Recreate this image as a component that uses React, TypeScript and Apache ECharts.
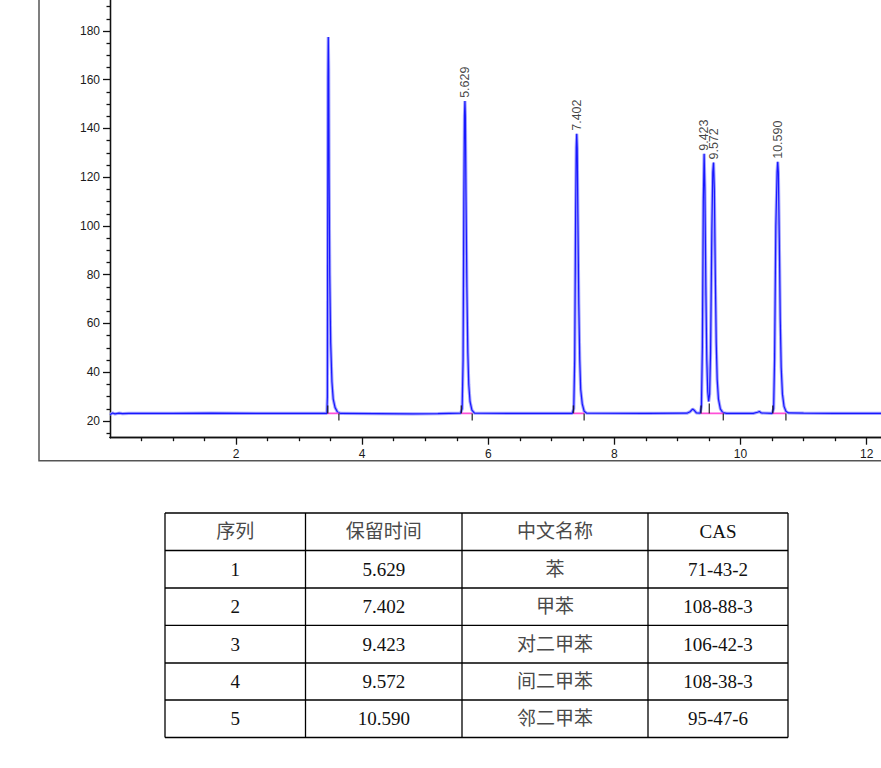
import React, { useEffect, useRef } from 'react';
import * as echarts from 'echarts';

// ---- chromatogram trace (time in min, signal) ----
const trace: [number, number][] = [
  [0.0, 22.6], [0.04, 23.3], [0.08, 22.9], [0.14, 23.2], [0.2, 23.0], [0.3, 23.1],
  [1.0, 23.1], [1.6, 23.2], [2.5, 23.1], [3.0, 23.1], [3.44, 23.1],
  [3.448, 30], [3.452, 90], [3.457, 160], [3.462, 177.5], [3.468, 165], [3.475, 120],
  [3.485, 80], [3.5, 52], [3.52, 36], [3.54, 29], [3.57, 25.5], [3.61, 23.6], [3.66, 23.1],
  [4.2, 23.0], [4.8, 22.9], [5.2, 23.0], [5.56, 23.2],
  [5.585, 25], [5.6, 45], [5.612, 110], [5.622, 145], [5.629, 151.3], [5.636, 145],
  [5.645, 115], [5.66, 75], [5.675, 48], [5.69, 35], [5.71, 28], [5.74, 24.5], [5.78, 23.2],
  [6.5, 23.1], [7.33, 23.1],
  [7.355, 25], [7.37, 45], [7.385, 105], [7.395, 132], [7.402, 137.8], [7.41, 132],
  [7.42, 105], [7.435, 68], [7.45, 45], [7.465, 33], [7.49, 27], [7.52, 24], [7.56, 23.2],
  [8.5, 23.1], [9.15, 23.2], [9.2, 23.8], [9.24, 24.9], [9.27, 24.3], [9.3, 23.3], [9.36, 23.2],
  [9.38, 26], [9.395, 50], [9.41, 110], [9.423, 129.6], [9.435, 115], [9.45, 75],
  [9.465, 45], [9.48, 32], [9.495, 28], [9.51, 31], [9.525, 48], [9.545, 98], [9.56, 122],
  [9.572, 126.0], [9.585, 115], [9.6, 80], [9.615, 52], [9.63, 37], [9.65, 29], [9.68, 25],
  [9.72, 23.4], [9.78, 23.1],
  [10.2, 23.1], [10.27, 23.6], [10.3, 23.9], [10.33, 23.3], [10.5, 23.1],
  [10.525, 25], [10.54, 45], [10.56, 100], [10.58, 122], [10.59, 126.3], [10.6, 122],
  [10.615, 95], [10.63, 62], [10.645, 42], [10.665, 31], [10.69, 26], [10.72, 24], [10.76, 23.3],
  [11.0, 23.2], [11.5, 23.1], [12.228, 23.1],
];

// labelled peaks
const peakTimes = [5.629, 7.402, 9.423, 9.572, 10.59];
const peakHeights = [151.3, 137.8, 129.6, 126.0, 126.3];

// integration baselines (start / end time, level)
const integStart = [3.453, 5.572, 7.35, 9.373, 10.512];
const integEnd = [3.63, 5.745, 7.52, 9.727, 10.72];
const integLevel = [23.1, 23.1, 23.1, 23.1, 23.1];
const valleyTimes = [9.505];

// axis ticks
const yMajorTicks = [20, 40, 60, 80, 100, 120, 140, 160, 180];
const yMinorTicks = [15, 25, 30, 35, 45, 50, 55, 65, 70, 75, 85, 90, 95, 105, 110, 115, 125, 130, 135, 145, 150, 155, 165, 170, 175, 185, 190];
const xMajorTicks = [2, 4, 6, 8, 10, 12];
const xMinorTicks = [0.5, 1, 1.5, 2.5, 3, 3.5, 4.5, 5, 5.5, 6.5, 7, 7.5, 8.5, 9, 9.5, 10.5, 11, 11.5];

// table
const tableHeaders = ['序列', '保留时间', '中文名称', 'CAS'];
const seqNumbers = ['1', '2', '3', '4', '5'];
const retentionTimes = ['5.629', '7.402', '9.423', '9.572', '10.590'];
const compoundNames = ['苯', '甲苯', '对二甲苯', '间二甲苯', '邻二甲苯'];
const casNumbers = ['71-43-2', '108-88-3', '106-42-3', '108-38-3', '95-47-6'];

const W = 881;
const H = 768;
const COL_X = [165, 305.5, 462, 648, 788];
const ROW_Y = [513, 550.5, 588, 625.3, 663, 700, 737.5];

const axisColor = '#111';
const labelFont = { fontSize: 12, fontFamily: '"Liberation Sans", Arial, sans-serif', color: '#1a1a1a' };

function buildTable(): any[] {
  const els: any[] = [];
  const x0 = COL_X[0];
  const x1 = COL_X[COL_X.length - 1];
  const y0 = ROW_Y[0];
  const y1 = ROW_Y[ROW_Y.length - 1];
  ROW_Y.forEach((y) => {
    els.push({ type: 'line', shape: { x1: x0, y1: y, x2: x1, y2: y }, style: { stroke: '#000', lineWidth: 1.3 } });
  });
  COL_X.forEach((x) => {
    els.push({ type: 'line', shape: { x1: x, y1: y0, x2: x, y2: y1 }, style: { stroke: '#000', lineWidth: 1.3 } });
  });
  const rows: string[][] = [tableHeaders];
  for (let i = 0; i < seqNumbers.length; i++) {
    rows.push([seqNumbers[i], retentionTimes[i], compoundNames[i], casNumbers[i]]);
  }
  rows.forEach((row, r) => {
    const cy = (ROW_Y[r] + ROW_Y[r + 1]) / 2;
    row.forEach((txt, c) => {
      const cx = (COL_X[c] + COL_X[c + 1]) / 2;
      const isCjk = /[\u4e00-\u9fff]/.test(txt);
      els.push({
        type: 'text',
        x: cx,
        y: cy,
        style: {
          text: txt,
          fill: isCjk ? '#4a4a4a' : '#111',
          font: '19px "Liberation Serif", "Times New Roman", "Noto Sans CJK SC", serif',
          textAlign: 'center',
          textVerticalAlign: 'middle',
          align: 'center',
          verticalAlign: 'middle',
        },
      });
    });
  });
  return els;
}

export default function App() {
  const ref = useRef<HTMLDivElement>(null);
  useEffect(() => {
    if (!ref.current) return;
    const chart = echarts.init(ref.current, null, { renderer: 'svg' });
    const gridBottomPx = 437.7;
    const option: any = {
      animation: false,
      backgroundColor: '#fff',
      grid: { left: 110, right: 0, top: 0, bottom: H - gridBottomPx, containLabel: false },
      xAxis: [
        {
          type: 'value', min: 0, max: 12.228, position: 'bottom',
          axisLine: { onZero: false, lineStyle: { color: axisColor, width: 1.3 } },
          axisTick: { customValues: xMajorTicks, length: 7, lineStyle: { color: axisColor, width: 1.3 } },
          axisLabel: { customValues: xMajorTicks, margin: 10, ...labelFont },
          splitLine: { show: false },
        },
        {
          type: 'value', min: 0, max: 12.228, position: 'bottom',
          axisLine: { onZero: false, lineStyle: { color: axisColor, width: 1.3 } },
          axisTick: { customValues: xMinorTicks, length: 3.5, lineStyle: { color: axisColor, width: 1.3 } },
          axisLabel: { show: false },
          splitLine: { show: false },
        },
      ],
      yAxis: [
        {
          type: 'value', min: 13.15, max: 192.7, position: 'left',
          axisLine: { show: true, onZero: false, lineStyle: { color: axisColor, width: 1.3 } },
          axisTick: { show: true, customValues: yMajorTicks, length: 7, lineStyle: { color: axisColor, width: 1.3 } },
          axisLabel: { customValues: yMajorTicks, margin: 10, ...labelFont },
          splitLine: { show: false },
        },
        {
          type: 'value', min: 13.15, max: 192.7, position: 'left',
          axisLine: { show: true, onZero: false, lineStyle: { color: axisColor, width: 1.3 } },
          axisTick: { show: true, customValues: yMinorTicks, length: 3.5, lineStyle: { color: axisColor, width: 1.3 } },
          axisLabel: { show: false },
          splitLine: { show: false },
        },
      ],
      series: [
        {
          type: 'line', data: trace, symbol: 'none', silent: true, z: 1,
          lineStyle: { color: '#a4a4ff', width: 3.2 },
        },
        {
          type: 'line', data: trace, symbol: 'none', silent: true, z: 2,
          lineStyle: { color: '#1818ff', width: 1.2 },
        },
        ...integStart.map((s, i) => ({
          type: 'line', symbol: 'none', silent: true, z: 3,
          data: [[s, integLevel[i]], [integEnd[i], integLevel[i]]],
          lineStyle: { color: '#ff4fd8', width: 1.8 },
        })),
        {
          type: 'scatter', silent: true, z: 4, symbol: 'rect', symbolSize: [1.4, 8], symbolOffset: [0, -4],
          itemStyle: { color: '#111' },
          data: integStart.map((s, i) => [s, integLevel[i]]),
        },
        {
          type: 'scatter', silent: true, z: 4, symbol: 'rect', symbolSize: [1.4, 7], symbolOffset: [0, 3.5],
          itemStyle: { color: '#111' },
          data: integEnd.map((e, i) => [e, integLevel[i]]),
        },
        {
          type: 'scatter', silent: true, z: 4, symbol: 'rect', symbolSize: [1.4, 10], symbolOffset: [0, -5],
          itemStyle: { color: '#111' },
          data: valleyTimes.map((v) => [v, integLevel[3]]),
        },
        {
          type: 'scatter', silent: true, z: 5, symbol: 'circle', symbolSize: 0.1,
          itemStyle: { color: 'rgba(0,0,0,0)' },
          data: peakTimes.map((t, i) => [t, peakHeights[i]]),
          label: {
            show: true,
            position: 'top',
            distance: 3,
            rotate: 90,
            align: 'left',
            verticalAlign: 'middle',
            formatter: (p: any) => Number(p.value[0]).toFixed(3),
            fontSize: 12.5,
            fontFamily: '"Liberation Sans", Arial, sans-serif',
            color: '#111',
          },
        },
      ],
      graphic: [
        {
          type: 'polyline',
          shape: { points: [[39, -5], [39, 460.8], [W + 5, 460.8]] },
          style: { stroke: '#555', lineWidth: 1.5, fill: 'none' },
        },
        ...buildTable(),
      ],
    };
    chart.setOption(option);
    return () => chart.dispose();
  }, []);
  return (
    <div
      ref={ref}
      style={{ position: 'absolute', left: 0, top: 0, width: W, height: H, background: '#fff' }}
    />
  );
}
